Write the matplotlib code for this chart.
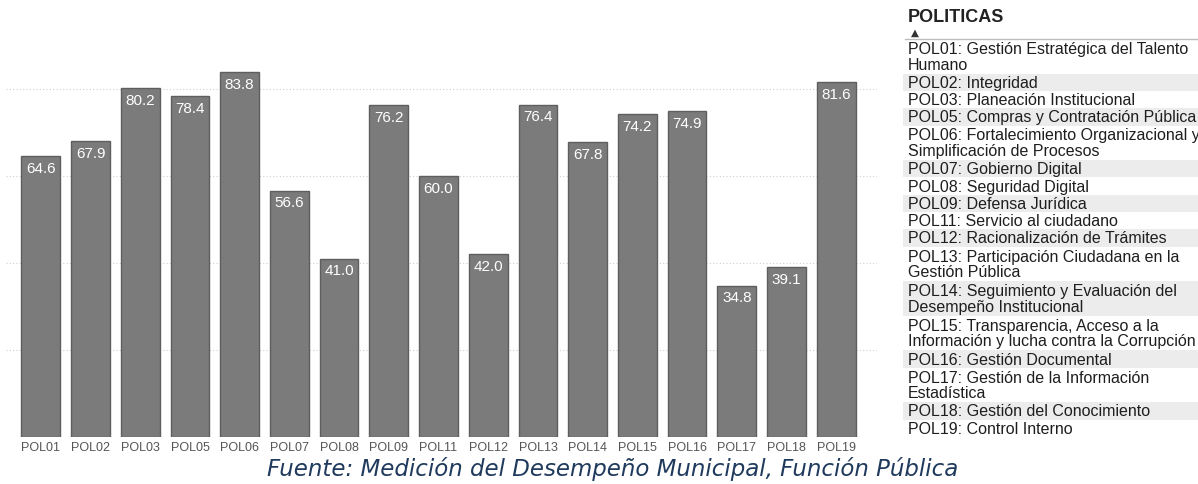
import matplotlib
matplotlib.use("Agg")
import matplotlib.pyplot as plt
from matplotlib.patches import Rectangle

plt.rcParams["font.family"] = ["Liberation Sans", "DejaVu Sans"]

politicas = ["POL01", "POL02", "POL03", "POL05", "POL06", "POL07", "POL08", "POL09",
             "POL11", "POL12", "POL13", "POL14", "POL15", "POL16", "POL17", "POL18", "POL19"]
puntajes = [64.6, 67.9, 80.2, 78.4, 83.8, 56.6, 41.0, 76.2,
            60.0, 42.0, 76.4, 67.8, 74.2, 74.9, 34.8, 39.1, 81.6]
nombres = [
    "POL01: Gestión Estratégica del Talento\nHumano",
    "POL02: Integridad",
    "POL03: Planeación Institucional",
    "POL05: Compras y Contratación Pública",
    "POL06: Fortalecimiento Organizacional y\nSimplificación de Procesos",
    "POL07: Gobierno Digital",
    "POL08: Seguridad Digital",
    "POL09: Defensa Jurídica",
    "POL11: Servicio al ciudadano",
    "POL12: Racionalización de Trámites",
    "POL13: Participación Ciudadana en la\nGestión Pública",
    "POL14: Seguimiento y Evaluación del\nDesempeño Institucional",
    "POL15: Transparencia, Acceso a la\nInformación y lucha contra la Corrupción",
    "POL16: Gestión Documental",
    "POL17: Gestión de la Información\nEstadística",
    "POL18: Gestión del Conocimiento",
    "POL19: Control Interno",
]
fuente = "Fuente: Medición del Desempeño Municipal, Función Pública"

W, H = 1198, 485
fig = plt.figure(figsize=(W / 100, H / 100), dpi=100)
fig.patch.set_facecolor("white")


def fx(x):
    return x / W


def fy(y):
    return 1 - y / H


# bar chart
ax = fig.add_axes([fx(6), fy(438), fx(877) - fx(6), fy(438 - 90 * 4.352) - fy(438)])
xs = range(len(politicas))
bars = ax.bar(xs, puntajes, width=0.78, color="#7b7b7b", edgecolor="#5e5e5e", linewidth=1, zorder=2)
for b, v in zip(bars, puntajes):
    ax.annotate(f"{v:.1f}", (b.get_x() + b.get_width() / 2, v), xytext=(0, -8.5),
                textcoords="offset points", ha="center", va="center",
                color="white", fontsize=11, zorder=3)

ax.set_xlim(-0.7, 16.82)
ax.set_ylim(0, 90)
ax.set_yticks([0, 20, 40, 60, 80])
ax.yaxis.grid(True, linestyle=(0, (1, 2)), color="#cfcfcf", linewidth=0.8, zorder=0)
ax.set_yticklabels([])
ax.tick_params(axis="y", length=0)
ax.set_xticks(list(xs))
ax.set_xticklabels(politicas, fontsize=9, color="#555555")
ax.tick_params(axis="x", length=0, pad=3)
for s in ax.spines.values():
    s.set_visible(False)

# legend table on the right
fig.text(fx(908), fy(18), "POLITICAS", fontsize=13, fontweight="bold", color="#222222",
         ha="left", va="center")
fig.text(fx(911), fy(33), "▲", fontsize=7.5, color="#333333", ha="left", va="center",
         family="DejaVu Sans")
fig.add_artist(plt.Line2D([fx(905), fx(1198)], [fy(40), fy(40)], color="#bdbdbd", linewidth=1))

line_h = 17.3
y = 40
for i, nombre in enumerate(nombres):
    n = nombre.count("\n") + 1
    if i % 2 == 1:
        fig.add_artist(Rectangle((fx(903), fy(y + n * line_h)), fx(1198) - fx(903),
                                 fy(y) - fy(y + n * line_h), facecolor="#ececec",
                                 edgecolor="none", zorder=0))
    fig.text(fx(908), fy(y + n * line_h / 2), nombre, fontsize=11.5, color="#1e1e1e",
             ha="left", va="center", linespacing=1.05)
    y += n * line_h

fig.text(fx(613), fy(469), fuente, fontsize=16.5, style="italic", color="#1f3a5c",
         ha="center", va="center", family="DejaVu Sans")

fig.savefig("out.png", dpi=100)
